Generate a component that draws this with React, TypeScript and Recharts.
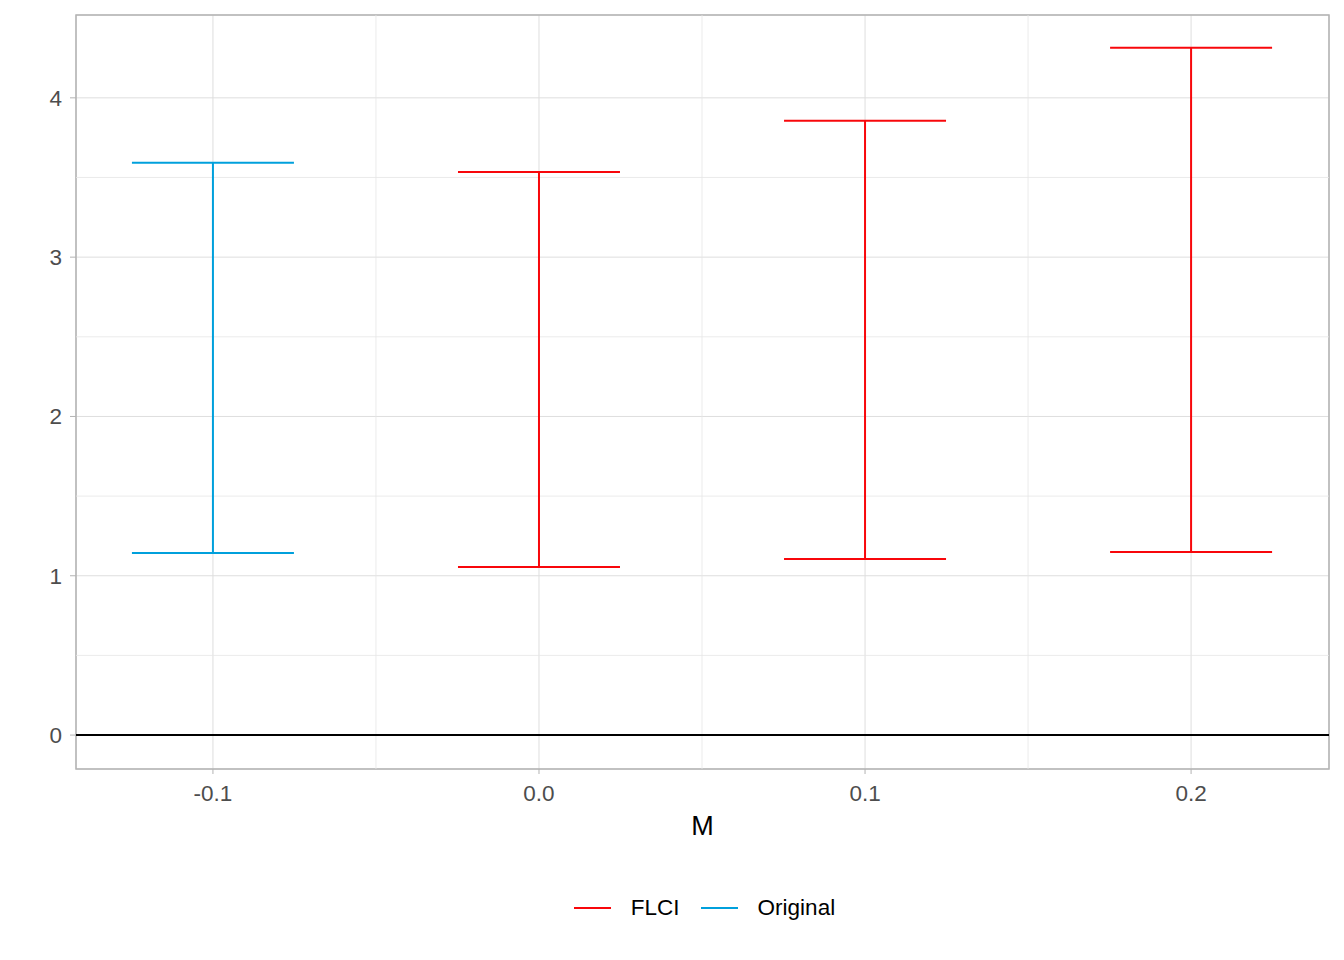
import {
  ComposedChart,
  Scatter,
  ErrorBar,
  XAxis,
  YAxis,
  CartesianGrid,
  ReferenceLine,
  ReferenceArea,
  Legend,
} from 'recharts';

// Intervals
const flciM = [0.0, 0.1, 0.2];
const flciLower = [1.055, 1.105, 1.149];
const flciUpper = [3.535, 3.856, 4.314];

const originalM = [-0.1];
const originalLower = [1.143];
const originalUpper = [3.592];

const xTicks = [-0.1, 0.0, 0.1, 0.2];
const xMinor = [-0.05, 0.05, 0.15];
const yTicks = [0, 1, 2, 3, 4];
const yMinor = [0.5, 1.5, 2.5, 3.5];

const xDomain: [number, number] = [-0.142, 0.2423];
const yDomain: [number, number] = [-0.213, 4.52];

const series = [
  { name: 'FLCI', color: '#F8070B' },
  { name: 'Original', color: '#00A0DC' },
];

const toRows = (m: number[], lo: number[], hi: number[]) =>
  m.map((x, i) => ({
    m: x,
    mid: (lo[i] + hi[i]) / 2,
    half: (hi[i] - lo[i]) / 2,
  }));

const flciData = toRows(flciM, flciLower, flciUpper);
const originalData = toRows(originalM, originalLower, originalUpper);

const font = '"Liberation Sans", Arial, sans-serif';

function LegendContent() {
  return (
    <div
      style={{
        display: 'flex',
        justifyContent: 'center',
        alignItems: 'center',
        fontFamily: font,
        fontSize: 22.5,
        color: '#000',
        marginTop: 54,
        marginLeft: 4,
      }}
    >
      {series.map((s, i) => (
        <div key={s.name} style={{ display: 'flex', alignItems: 'center', marginRight: i < series.length - 1 ? 21 : 0 }}>
          <div style={{ width: 37, height: 2, background: s.color, marginRight: 20 }} />
          <span>{s.name}</span>
        </div>
      ))}
    </div>
  );
}

export default function App() {
  return (
    <div style={{ position: 'absolute', left: 0, top: 0, width: 1344, height: 960, background: '#fff' }}>
      <ComposedChart
        width={1344}
        height={960}
        margin={{ top: 15, right: 15, bottom: 0, left: 0 }}
      >
        <CartesianGrid stroke="#DEDEDE" strokeWidth={1} />
        {xMinor.map((v) => (
          <ReferenceLine key={`xm${v}`} x={v} stroke="#E6E6E6" strokeWidth={0.8} />
        ))}
        {yMinor.map((v) => (
          <ReferenceLine key={`ym${v}`} y={v} stroke="#E6E6E6" strokeWidth={0.8} />
        ))}
        <XAxis
          type="number"
          dataKey="m"
          domain={xDomain}
          ticks={xTicks}
          allowDataOverflow
          tickFormatter={(v: number) => v.toFixed(1)}
          axisLine={false}
          tickSize={5}
          tickMargin={11}
          tickLine={{ stroke: '#B3B3B3' }}
          tick={{ fill: '#4D4D4D', fontSize: 22.5, fontFamily: font }}
          height={72}
          label={{ value: 'M', position: 'insideBottom', offset: 6, fill: '#000', fontSize: 27, fontFamily: font }}
        />
        <YAxis
          type="number"
          domain={yDomain}
          ticks={yTicks}
          allowDataOverflow
          axisLine={false}
          tickSize={6}
          tickMargin={8}
          tickLine={{ stroke: '#B3B3B3' }}
          tick={{ fill: '#4D4D4D', fontSize: 22.5, fontFamily: font }}
          width={76}
        />
        <ReferenceLine y={0} stroke="#000" strokeWidth={2} />
        <ReferenceArea
          x1={xDomain[0]}
          x2={xDomain[1]}
          y1={yDomain[0]}
          y2={yDomain[1]}
          fill="none"
          stroke="#B3B3B3"
          strokeWidth={1.5}
          fillOpacity={0}
        />
        <Scatter name="FLCI" data={flciData} dataKey="mid" shape={() => <g />} isAnimationActive={false}>
          <ErrorBar dataKey="half" direction="y" width={81} stroke={series[0].color} strokeWidth={2} isAnimationActive={false} />
        </Scatter>
        <Scatter name="Original" data={originalData} dataKey="mid" shape={() => <g />} isAnimationActive={false}>
          <ErrorBar dataKey="half" direction="y" width={81} stroke={series[1].color} strokeWidth={2} isAnimationActive={false} />
        </Scatter>
        <Legend
          verticalAlign="bottom"
          height={119}
          content={<LegendContent />}
          wrapperStyle={{ left: 76, width: 1253 }}
        />
      </ComposedChart>
    </div>
  );
}
